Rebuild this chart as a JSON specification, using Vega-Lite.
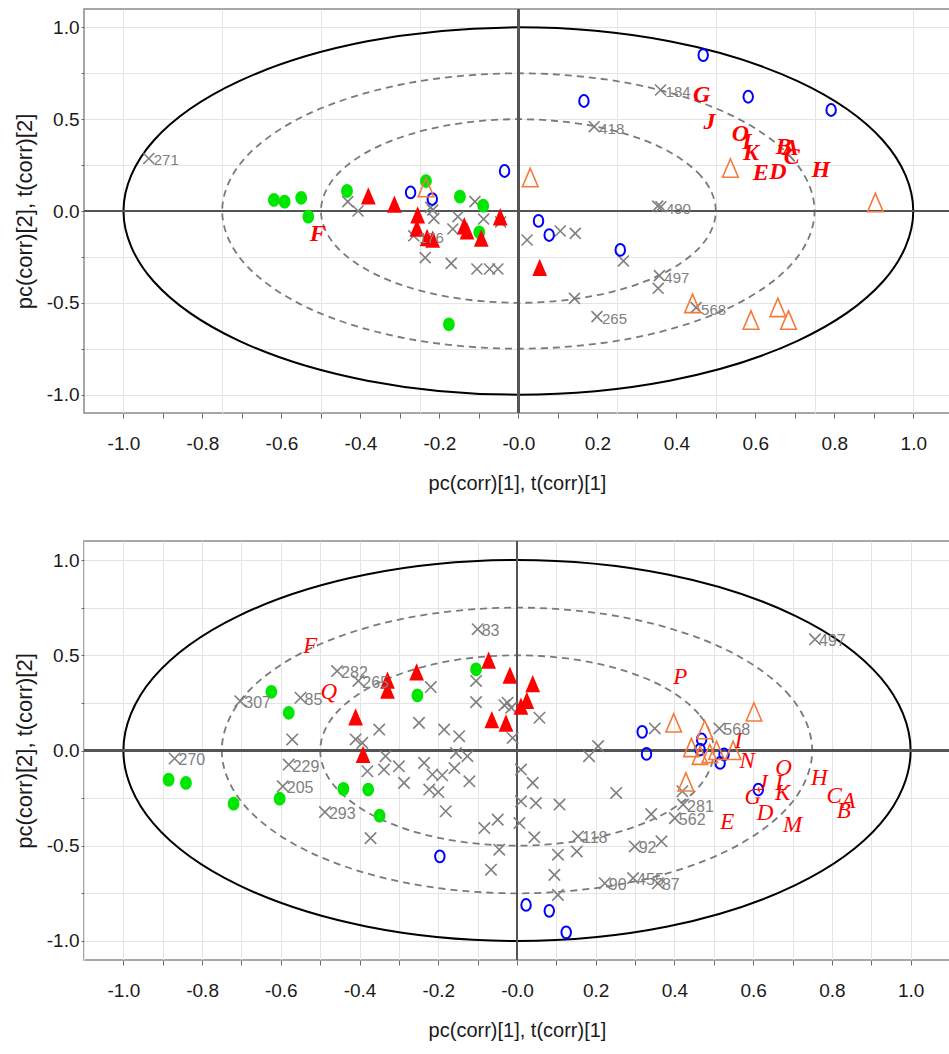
{
  "$schema": "https://vega.github.io/schema/vega-lite/v6.json",
  "padding": {"left": 12, "top": 7, "right": 0, "bottom": 0},
  "spacing": 45,
  "config": {
    "font": "Liberation Sans",
    "view": {"stroke": "#8a8a8a", "strokeWidth": 1.5},
    "axis": {
      "labelFont": "Liberation Sans",
      "titleFont": "Liberation Sans",
      "labelFontSize": 19,
      "labelColor": "#1a1a1a",
      "titleFontSize": 20,
      "titleFontWeight": "normal",
      "titleColor": "#1a1a1a",
      "tickColor": "#6a6a6a",
      "domain": false,
      "gridColor": "#e4e4e4",
      "gridWidth": 1,
      "labelOverlap": false,
      "labelFlush": false
    }
  },
  "datasets": {
    "rings": [
      {"r": 1, "i": 0, "x": 1, "y": 0}, {"r": 1, "i": 1, "x": 0.9239, "y": 0.3827}, {"r": 1, "i": 2, "x": 0.7071, "y": 0.7071}, {"r": 1, "i": 3, "x": 0.3827, "y": 0.9239},
      {"r": 1, "i": 4, "x": 0, "y": 1}, {"r": 1, "i": 5, "x": -0.3827, "y": 0.9239}, {"r": 1, "i": 6, "x": -0.7071, "y": 0.7071}, {"r": 1, "i": 7, "x": -0.9239, "y": 0.3827},
      {"r": 1, "i": 8, "x": -1, "y": 0}, {"r": 1, "i": 9, "x": -0.9239, "y": -0.3827}, {"r": 1, "i": 10, "x": -0.7071, "y": -0.7071}, {"r": 1, "i": 11, "x": -0.3827, "y": -0.9239},
      {"r": 1, "i": 12, "x": 0, "y": -1}, {"r": 1, "i": 13, "x": 0.3827, "y": -0.9239}, {"r": 1, "i": 14, "x": 0.7071, "y": -0.7071}, {"r": 1, "i": 15, "x": 0.9239, "y": -0.3827},
      {"r": 0.75, "i": 0, "x": 0.75, "y": 0}, {"r": 0.75, "i": 1, "x": 0.6929, "y": 0.287}, {"r": 0.75, "i": 2, "x": 0.5303, "y": 0.5303}, {"r": 0.75, "i": 3, "x": 0.287, "y": 0.6929},
      {"r": 0.75, "i": 4, "x": 0, "y": 0.75}, {"r": 0.75, "i": 5, "x": -0.287, "y": 0.6929}, {"r": 0.75, "i": 6, "x": -0.5303, "y": 0.5303}, {"r": 0.75, "i": 7, "x": -0.6929, "y": 0.287},
      {"r": 0.75, "i": 8, "x": -0.75, "y": 0}, {"r": 0.75, "i": 9, "x": -0.6929, "y": -0.287}, {"r": 0.75, "i": 10, "x": -0.5303, "y": -0.5303}, {"r": 0.75, "i": 11, "x": -0.287, "y": -0.6929},
      {"r": 0.75, "i": 12, "x": 0, "y": -0.75}, {"r": 0.75, "i": 13, "x": 0.287, "y": -0.6929}, {"r": 0.75, "i": 14, "x": 0.5303, "y": -0.5303}, {"r": 0.75, "i": 15, "x": 0.6929, "y": -0.287},
      {"r": 0.5, "i": 0, "x": 0.5, "y": 0}, {"r": 0.5, "i": 1, "x": 0.4619, "y": 0.1913}, {"r": 0.5, "i": 2, "x": 0.3536, "y": 0.3536}, {"r": 0.5, "i": 3, "x": 0.1913, "y": 0.4619},
      {"r": 0.5, "i": 4, "x": 0, "y": 0.5}, {"r": 0.5, "i": 5, "x": -0.1913, "y": 0.4619}, {"r": 0.5, "i": 6, "x": -0.3536, "y": 0.3536}, {"r": 0.5, "i": 7, "x": -0.4619, "y": 0.1913},
      {"r": 0.5, "i": 8, "x": -0.5, "y": 0}, {"r": 0.5, "i": 9, "x": -0.4619, "y": -0.1913}, {"r": 0.5, "i": 10, "x": -0.3536, "y": -0.3536}, {"r": 0.5, "i": 11, "x": -0.1913, "y": -0.4619},
      {"r": 0.5, "i": 12, "x": 0, "y": -0.5}, {"r": 0.5, "i": 13, "x": 0.1913, "y": -0.4619}, {"r": 0.5, "i": 14, "x": 0.3536, "y": -0.3536}, {"r": 0.5, "i": 15, "x": 0.4619, "y": -0.1913}
    ],
    "top": [
      {"type": "x", "x": -0.936, "y": 0.286, "label": "271"},
      {"type": "x", "x": -0.432, "y": 0.051, "label": ""},
      {"type": "x", "x": -0.406, "y": 0.0, "label": ""},
      {"type": "x", "x": -0.217, "y": 0.005, "label": ""},
      {"type": "x", "x": -0.214, "y": -0.04, "label": ""},
      {"type": "x", "x": -0.222, "y": 0.02, "label": ""},
      {"type": "x", "x": -0.265, "y": -0.135, "label": "176"},
      {"type": "x", "x": -0.236, "y": -0.254, "label": ""},
      {"type": "x", "x": -0.17, "y": -0.285, "label": ""},
      {"type": "x", "x": -0.153, "y": -0.031, "label": ""},
      {"type": "x", "x": -0.166, "y": -0.098, "label": ""},
      {"type": "x", "x": -0.11, "y": 0.051, "label": ""},
      {"type": "x", "x": -0.088, "y": -0.044, "label": ""},
      {"type": "x", "x": -0.105, "y": -0.316, "label": ""},
      {"type": "x", "x": -0.073, "y": -0.316, "label": ""},
      {"type": "x", "x": -0.052, "y": -0.316, "label": ""},
      {"type": "x", "x": -0.045, "y": -0.06, "label": ""},
      {"type": "x", "x": 0.022, "y": -0.158, "label": ""},
      {"type": "x", "x": 0.106, "y": -0.109, "label": ""},
      {"type": "x", "x": 0.144, "y": -0.122, "label": ""},
      {"type": "x", "x": 0.266, "y": -0.272, "label": ""},
      {"type": "x", "x": 0.142, "y": -0.476, "label": ""},
      {"type": "x", "x": 0.36, "y": 0.659, "label": "184"},
      {"type": "x", "x": 0.192, "y": 0.459, "label": "418"},
      {"type": "x", "x": 0.361, "y": 0.023, "label": "490"},
      {"type": "x", "x": 0.353, "y": 0.027, "label": ""},
      {"type": "x", "x": 0.357, "y": -0.352, "label": "497"},
      {"type": "x", "x": 0.354, "y": -0.421, "label": ""},
      {"type": "x", "x": 0.199, "y": -0.575, "label": "265"},
      {"type": "x", "x": 0.45, "y": -0.526, "label": "568"},
      {"type": "g", "x": -0.619, "y": 0.06, "label": ""},
      {"type": "g", "x": -0.592, "y": 0.051, "label": ""},
      {"type": "g", "x": -0.55, "y": 0.072, "label": ""},
      {"type": "g", "x": -0.532, "y": -0.031, "label": ""},
      {"type": "g", "x": -0.434, "y": 0.109, "label": ""},
      {"type": "g", "x": -0.234, "y": 0.163, "label": ""},
      {"type": "g", "x": -0.148, "y": 0.078, "label": ""},
      {"type": "g", "x": -0.089, "y": 0.029, "label": ""},
      {"type": "g", "x": -0.099, "y": -0.116, "label": ""},
      {"type": "g", "x": -0.176, "y": -0.617, "label": ""},
      {"type": "b", "x": -0.273, "y": 0.101, "label": ""},
      {"type": "b", "x": -0.218, "y": 0.065, "label": ""},
      {"type": "b", "x": -0.035, "y": 0.218, "label": ""},
      {"type": "b", "x": 0.051, "y": -0.054, "label": ""},
      {"type": "b", "x": 0.078, "y": -0.131, "label": ""},
      {"type": "b", "x": 0.166, "y": 0.599, "label": ""},
      {"type": "b", "x": 0.258, "y": -0.212, "label": ""},
      {"type": "b", "x": 0.582, "y": 0.622, "label": ""},
      {"type": "b", "x": 0.792, "y": 0.55, "label": ""},
      {"type": "b", "x": 0.468, "y": 0.849, "label": ""},
      {"type": "o", "x": -0.234, "y": 0.123, "label": ""},
      {"type": "o", "x": 0.03, "y": 0.177, "label": ""},
      {"type": "o", "x": 0.537, "y": 0.229, "label": ""},
      {"type": "o", "x": 0.904, "y": 0.041, "label": ""},
      {"type": "o", "x": 0.441, "y": -0.508, "label": ""},
      {"type": "o", "x": 0.589, "y": -0.599, "label": ""},
      {"type": "o", "x": 0.657, "y": -0.53, "label": ""},
      {"type": "o", "x": 0.684, "y": -0.599, "label": ""},
      {"type": "r", "x": -0.38, "y": 0.078, "label": ""},
      {"type": "r", "x": -0.314, "y": 0.033, "label": ""},
      {"type": "r", "x": -0.255, "y": -0.026, "label": ""},
      {"type": "r", "x": -0.257, "y": -0.098, "label": ""},
      {"type": "r", "x": -0.231, "y": -0.149, "label": ""},
      {"type": "r", "x": -0.217, "y": -0.158, "label": ""},
      {"type": "r", "x": -0.137, "y": -0.085, "label": ""},
      {"type": "r", "x": -0.13, "y": -0.113, "label": ""},
      {"type": "r", "x": -0.094, "y": -0.152, "label": ""},
      {"type": "r", "x": -0.046, "y": -0.036, "label": ""},
      {"type": "r", "x": 0.054, "y": -0.312, "label": ""},
      {"type": "L", "x": -0.508, "y": -0.127, "label": "F"},
      {"type": "L", "x": 0.464, "y": 0.631, "label": "G"},
      {"type": "L", "x": 0.484, "y": 0.486, "label": "J"},
      {"type": "L", "x": 0.562, "y": 0.422, "label": "O"},
      {"type": "L", "x": 0.579, "y": 0.378, "label": "I"},
      {"type": "L", "x": 0.589, "y": 0.314, "label": "K"},
      {"type": "L", "x": 0.614, "y": 0.205, "label": "E"},
      {"type": "L", "x": 0.657, "y": 0.214, "label": "D"},
      {"type": "L", "x": 0.672, "y": 0.35, "label": "B"},
      {"type": "L", "x": 0.69, "y": 0.344, "label": "A"},
      {"type": "L", "x": 0.692, "y": 0.296, "label": "C"},
      {"type": "L", "x": 0.766, "y": 0.223, "label": "H"}
    ],
    "bottom": [
      {"type": "x", "x": -0.87, "y": -0.042, "label": "270"},
      {"type": "x", "x": -0.703, "y": 0.259, "label": "307"},
      {"type": "x", "x": -0.457, "y": 0.417, "label": "282"},
      {"type": "x", "x": -0.403, "y": 0.365, "label": "265"},
      {"type": "x", "x": -0.55, "y": 0.277, "label": "85"},
      {"type": "x", "x": -0.58, "y": -0.074, "label": "229"},
      {"type": "x", "x": -0.595, "y": -0.188, "label": "205"},
      {"type": "x", "x": -0.488, "y": -0.323, "label": "293"},
      {"type": "x", "x": -0.1, "y": 0.637, "label": "83"},
      {"type": "x", "x": 0.757, "y": 0.584, "label": "497"},
      {"type": "x", "x": 0.514, "y": 0.116, "label": "568"},
      {"type": "x", "x": 0.422, "y": -0.284, "label": "281"},
      {"type": "x", "x": 0.401, "y": -0.355, "label": "562"},
      {"type": "x", "x": 0.155, "y": -0.451, "label": "118"},
      {"type": "x", "x": 0.299, "y": -0.504, "label": "92"},
      {"type": "x", "x": 0.223, "y": -0.697, "label": "90"},
      {"type": "x", "x": 0.295, "y": -0.67, "label": "455"},
      {"type": "x", "x": 0.358, "y": -0.697, "label": "87"},
      {"type": "x", "x": -0.571, "y": 0.058, "label": ""},
      {"type": "x", "x": -0.41, "y": 0.058, "label": ""},
      {"type": "x", "x": -0.393, "y": 0.04, "label": ""},
      {"type": "x", "x": -0.35, "y": 0.11, "label": ""},
      {"type": "x", "x": -0.372, "y": -0.46, "label": ""},
      {"type": "x", "x": -0.38, "y": -0.109, "label": ""},
      {"type": "x", "x": -0.334, "y": -0.03, "label": ""},
      {"type": "x", "x": -0.338, "y": -0.1, "label": ""},
      {"type": "x", "x": -0.3, "y": -0.083, "label": ""},
      {"type": "x", "x": -0.287, "y": -0.17, "label": ""},
      {"type": "x", "x": -0.249, "y": 0.145, "label": ""},
      {"type": "x", "x": -0.219, "y": 0.333, "label": ""},
      {"type": "x", "x": -0.236, "y": -0.065, "label": ""},
      {"type": "x", "x": -0.185, "y": 0.11, "label": ""},
      {"type": "x", "x": -0.215, "y": -0.126, "label": ""},
      {"type": "x", "x": -0.19, "y": -0.13, "label": ""},
      {"type": "x", "x": -0.223, "y": -0.205, "label": ""},
      {"type": "x", "x": -0.2, "y": -0.218, "label": ""},
      {"type": "x", "x": -0.181, "y": -0.319, "label": ""},
      {"type": "x", "x": -0.104, "y": 0.365, "label": ""},
      {"type": "x", "x": -0.104, "y": 0.254, "label": ""},
      {"type": "x", "x": -0.147, "y": 0.075, "label": ""},
      {"type": "x", "x": -0.155, "y": -0.013, "label": ""},
      {"type": "x", "x": -0.126, "y": -0.03, "label": ""},
      {"type": "x", "x": -0.159, "y": -0.092, "label": ""},
      {"type": "x", "x": -0.121, "y": -0.162, "label": ""},
      {"type": "x", "x": -0.024, "y": 0.251, "label": ""},
      {"type": "x", "x": -0.015, "y": 0.224, "label": ""},
      {"type": "x", "x": -0.032, "y": 0.238, "label": ""},
      {"type": "x", "x": 0.057, "y": 0.172, "label": ""},
      {"type": "x", "x": -0.011, "y": 0.066, "label": ""},
      {"type": "x", "x": 0.01, "y": -0.1, "label": ""},
      {"type": "x", "x": 0.04, "y": -0.17, "label": ""},
      {"type": "x", "x": 0.01, "y": -0.267, "label": ""},
      {"type": "x", "x": 0.048, "y": -0.276, "label": ""},
      {"type": "x", "x": 0.108, "y": -0.284, "label": ""},
      {"type": "x", "x": 0.006, "y": -0.381, "label": ""},
      {"type": "x", "x": -0.049, "y": -0.363, "label": ""},
      {"type": "x", "x": -0.083, "y": -0.407, "label": ""},
      {"type": "x", "x": 0.044, "y": -0.456, "label": ""},
      {"type": "x", "x": -0.045, "y": -0.521, "label": ""},
      {"type": "x", "x": -0.066, "y": -0.626, "label": ""},
      {"type": "x", "x": 0.104, "y": -0.547, "label": ""},
      {"type": "x", "x": 0.152, "y": -0.53, "label": ""},
      {"type": "x", "x": 0.095, "y": -0.653, "label": ""},
      {"type": "x", "x": 0.104, "y": -0.758, "label": ""},
      {"type": "x", "x": 0.183, "y": -0.03, "label": ""},
      {"type": "x", "x": 0.206, "y": 0.023, "label": ""},
      {"type": "x", "x": 0.35, "y": 0.116, "label": ""},
      {"type": "x", "x": 0.252, "y": -0.223, "label": ""},
      {"type": "x", "x": 0.341, "y": -0.334, "label": ""},
      {"type": "x", "x": 0.42, "y": -0.214, "label": ""},
      {"type": "x", "x": 0.367, "y": -0.477, "label": ""},
      {"type": "g", "x": -0.885, "y": -0.153, "label": ""},
      {"type": "g", "x": -0.841, "y": -0.17, "label": ""},
      {"type": "g", "x": -0.72, "y": -0.279, "label": ""},
      {"type": "g", "x": -0.624, "y": 0.308, "label": ""},
      {"type": "g", "x": -0.58, "y": 0.198, "label": ""},
      {"type": "g", "x": -0.603, "y": -0.253, "label": ""},
      {"type": "g", "x": -0.441, "y": -0.202, "label": ""},
      {"type": "g", "x": -0.378, "y": -0.205, "label": ""},
      {"type": "g", "x": -0.349, "y": -0.342, "label": ""},
      {"type": "g", "x": -0.253, "y": 0.289, "label": ""},
      {"type": "g", "x": -0.104, "y": 0.426, "label": ""},
      {"type": "b", "x": -0.196, "y": -0.556, "label": ""},
      {"type": "b", "x": 0.023, "y": -0.811, "label": ""},
      {"type": "b", "x": 0.082, "y": -0.842, "label": ""},
      {"type": "b", "x": 0.125, "y": -0.955, "label": ""},
      {"type": "b", "x": 0.318, "y": 0.098, "label": ""},
      {"type": "b", "x": 0.329, "y": -0.018, "label": ""},
      {"type": "b", "x": 0.469, "y": 0.058, "label": ""},
      {"type": "b", "x": 0.465, "y": 0.005, "label": ""},
      {"type": "b", "x": 0.526, "y": -0.021, "label": ""},
      {"type": "b", "x": 0.516, "y": -0.065, "label": ""},
      {"type": "b", "x": 0.613, "y": -0.205, "label": ""},
      {"type": "o", "x": 0.398, "y": 0.14, "label": ""},
      {"type": "o", "x": 0.477, "y": 0.105, "label": ""},
      {"type": "o", "x": 0.602, "y": 0.198, "label": ""},
      {"type": "o", "x": 0.443, "y": 0.011, "label": ""},
      {"type": "o", "x": 0.465, "y": -0.03, "label": ""},
      {"type": "o", "x": 0.49, "y": -0.021, "label": ""},
      {"type": "o", "x": 0.507, "y": -0.004, "label": ""},
      {"type": "o", "x": 0.549, "y": -0.004, "label": ""},
      {"type": "o", "x": 0.429, "y": -0.17, "label": ""},
      {"type": "r", "x": -0.41, "y": 0.172, "label": ""},
      {"type": "r", "x": -0.391, "y": -0.025, "label": ""},
      {"type": "r", "x": -0.329, "y": 0.365, "label": ""},
      {"type": "r", "x": -0.329, "y": 0.312, "label": ""},
      {"type": "r", "x": -0.255, "y": 0.408, "label": ""},
      {"type": "r", "x": -0.072, "y": 0.47, "label": ""},
      {"type": "r", "x": -0.018, "y": 0.391, "label": ""},
      {"type": "r", "x": 0.04, "y": 0.347, "label": ""},
      {"type": "r", "x": 0.025, "y": 0.259, "label": ""},
      {"type": "r", "x": 0.01, "y": 0.228, "label": ""},
      {"type": "r", "x": -0.064, "y": 0.158, "label": ""},
      {"type": "r", "x": -0.028, "y": 0.14, "label": ""},
      {"type": "L", "x": -0.525, "y": 0.549, "label": "F"},
      {"type": "L", "x": -0.478, "y": 0.308, "label": "Q"},
      {"type": "L", "x": 0.415, "y": 0.386, "label": "P"},
      {"type": "L", "x": 0.562, "y": 0.049, "label": "I"},
      {"type": "L", "x": 0.585, "y": -0.056, "label": "N"},
      {"type": "L", "x": 0.677, "y": -0.092, "label": "O"},
      {"type": "L", "x": 0.624, "y": -0.17, "label": "J"},
      {"type": "L", "x": 0.672, "y": -0.17, "label": "L"},
      {"type": "L", "x": 0.675, "y": -0.223, "label": "K"},
      {"type": "L", "x": 0.599, "y": -0.246, "label": "G"},
      {"type": "L", "x": 0.63, "y": -0.328, "label": "D"},
      {"type": "L", "x": 0.534, "y": -0.376, "label": "E"},
      {"type": "L", "x": 0.7, "y": -0.389, "label": "M"},
      {"type": "L", "x": 0.768, "y": -0.144, "label": "H"},
      {"type": "L", "x": 0.806, "y": -0.241, "label": "C"},
      {"type": "L", "x": 0.842, "y": -0.267, "label": "A"},
      {"type": "L", "x": 0.83, "y": -0.319, "label": "B"}
    ]
  },
  "vconcat": [
    {
      "width": 866,
      "height": 404,
      "data": {"name": "top"},
      "resolve": {"axis": {"x": "independent", "y": "independent"}},
      "layer": [
        {
          "data": {"name": "rings"},
          "transform": [{"filter": "datum.r == 1"}],
          "mark": {"type": "line", "interpolate": "cardinal-closed", "color": "#000000", "strokeWidth": 2},
          "encoding": {
            "x": {"field": "x", "type": "quantitative", "scale": {"domain": [-1.1, 1.093], "nice": false, "zero": false},
              "axis": {"orient": "bottom", "title": "pc(corr)[1], t(corr)[1]", "values": [-1, -0.9, -0.8, -0.7, -0.6, -0.5, -0.4, -0.3, -0.2, -0.1, 0, 0.1, 0.2, 0.3, 0.4, 0.5, 0.6, 0.7, 0.8, 0.9, 1],
                "labelExpr": "abs(datum.value) < 0.001 ? '-0.0' : (abs(round(datum.value*10)) % 2 == 1 ? '' : replace(format(datum.value, '.1f'), '\u2212', '-'))",
                "grid": false, "ticks": true, "tickSize": 5, "labelPadding": 16, "titlePadding": 20}},
            "y": {"field": "y", "type": "quantitative", "scale": {"domain": [-1.1, 1.1], "nice": false, "zero": false},
              "axis": {"orient": "left", "title": "pc(corr)[2], t(corr)[2]", "titleFontSize": 22, "values": [-1, -0.75, -0.5, -0.25, 0, 0.25, 0.5, 0.75, 1],
                "labelExpr": "abs(datum.value*2 - round(datum.value*2)) > 0.01 ? '' : replace(format(datum.value, '.1f'), '\u2212', '-')",
                "grid": true, "ticks": true, "tickSize": 3, "labelPadding": 2, "titlePadding": 10}},
            "order": {"field": "i", "type": "quantitative"}
          }
        },
        {
          "data": {"name": "rings"},
          "transform": [{"filter": "datum.r < 1"}],
          "mark": {"type": "line", "interpolate": "cardinal-closed", "color": "#7a7a7a", "strokeWidth": 1.8, "strokeDash": [7, 5]},
          "encoding": {
            "x": {"field": "x", "type": "quantitative", "axis": {"orient": "bottom", "title": null, "values": [-1, -0.75, -0.5, -0.25, 0, 0.25, 0.5, 0.75, 1], "grid": true, "labels": false, "ticks": false, "domain": false}},
            "y": {"field": "y", "type": "quantitative", "axis": null},
            "detail": {"field": "r", "type": "nominal"},
            "order": {"field": "i", "type": "quantitative"}
          }
        },
        {
          "mark": {"type": "rule", "color": "#555555", "strokeWidth": 1.5},
          "encoding": {"x": {"datum": 0, "type": "quantitative", "axis": null}}
        },
        {
          "mark": {"type": "rule", "color": "#555555", "strokeWidth": 1.5},
          "encoding": {"y": {"datum": 0, "type": "quantitative", "axis": null}}
        },
        {
          "transform": [{"filter": "datum.type == 'x'"}],
          "mark": {"type": "point", "shape": "M-1,-1L1,1M-1,1L1,-1", "size": 120, "filled": false, "color": "#7f7f7f", "strokeWidth": 1.6, "opacity": 1},
          "encoding": {"x": {"field": "x", "type": "quantitative", "axis": null}, "y": {"field": "y", "type": "quantitative", "axis": null}}
        },
        {
          "transform": [{"filter": "datum.type == 'g'"}],
          "mark": {"type": "point", "shape": "M0,-1A0.85,1,0,1,1,0,1A0.85,1,0,1,1,0,-1Z", "size": 190, "filled": true, "color": "#00e600", "opacity": 1, "strokeWidth": 0},
          "encoding": {"x": {"field": "x", "type": "quantitative", "axis": null}, "y": {"field": "y", "type": "quantitative", "axis": null}}
        },
        {
          "transform": [{"filter": "datum.type == 'b'"}],
          "mark": {"type": "point", "shape": "M0,-1A0.8,1,0,1,1,0,1A0.8,1,0,1,1,0,-1Z", "size": 140, "filled": false, "color": "#0000ff", "strokeWidth": 2, "opacity": 1},
          "encoding": {"x": {"field": "x", "type": "quantitative", "axis": null}, "y": {"field": "y", "type": "quantitative", "axis": null}}
        },
        {
          "transform": [{"filter": "datum.type == 'o'"}],
          "mark": {"type": "point", "shape": "M0,-1.1L0.85,0.9L-0.85,0.9Z", "size": 340, "filled": false, "color": "#f47a3c", "strokeWidth": 1.6, "opacity": 1},
          "encoding": {"x": {"field": "x", "type": "quantitative", "axis": null}, "y": {"field": "y", "type": "quantitative", "axis": null}}
        },
        {
          "transform": [{"filter": "datum.type == 'r'"}],
          "mark": {"type": "point", "shape": "M0,-1.1L0.85,0.9L-0.85,0.9Z", "size": 300, "filled": true, "color": "#ff0000", "opacity": 1, "strokeWidth": 0},
          "encoding": {"x": {"field": "x", "type": "quantitative", "axis": null}, "y": {"field": "y", "type": "quantitative", "axis": null}}
        },
        {
          "transform": [{"filter": "datum.type == 'L'"}],
          "mark": {"type": "text", "font": "Liberation Serif", "fontStyle": "italic", "fontWeight": "bold", "fontSize": 24, "color": "#ff0000", "align": "center", "baseline": "middle"},
          "encoding": {"x": {"field": "x", "type": "quantitative", "axis": null}, "y": {"field": "y", "type": "quantitative", "axis": null}, "text": {"field": "label"}}
        },
        {
          "transform": [{"filter": "datum.type == 'x' && datum.label != ''"}],
          "mark": {"type": "text", "font": "Liberation Sans", "fontSize": 15, "color": "#808080", "align": "left", "baseline": "middle", "dx": 5, "dy": 2},
          "encoding": {"x": {"field": "x", "type": "quantitative", "axis": null}, "y": {"field": "y", "type": "quantitative", "axis": null}, "text": {"field": "label"}}
        }
      ]
    },
    {
      "width": 866,
      "height": 419,
      "data": {"name": "bottom"},
      "resolve": {"axis": {"x": "independent", "y": "independent"}},
      "layer": [
        {
          "data": {"name": "rings"},
          "transform": [{"filter": "datum.r == 1"}],
          "mark": {"type": "line", "interpolate": "cardinal-closed", "color": "#000000", "strokeWidth": 2},
          "encoding": {
            "x": {"field": "x", "type": "quantitative", "scale": {"domain": [-1.1, 1.1], "nice": false, "zero": false},
              "axis": {"orient": "bottom", "title": "pc(corr)[1], t(corr)[1]", "values": [-1, -0.9, -0.8, -0.7, -0.6, -0.5, -0.4, -0.3, -0.2, -0.1, 0, 0.1, 0.2, 0.3, 0.4, 0.5, 0.6, 0.7, 0.8, 0.9, 1],
                "labelExpr": "abs(datum.value) < 0.001 ? '-0.0' : (abs(round(datum.value*10)) % 2 == 1 ? '' : replace(format(datum.value, '.1f'), '\u2212', '-'))",
                "grid": false, "ticks": true, "tickSize": 5, "labelPadding": 16, "titlePadding": 20}},
            "y": {"field": "y", "type": "quantitative", "scale": {"domain": [-1.1, 1.1], "nice": false, "zero": false},
              "axis": {"orient": "left", "title": "pc(corr)[2], t(corr)[2]", "titleFontSize": 22, "values": [-1, -0.75, -0.5, -0.25, 0, 0.25, 0.5, 0.75, 1],
                "labelExpr": "abs(datum.value*2 - round(datum.value*2)) > 0.01 ? '' : replace(format(datum.value, '.1f'), '\u2212', '-')",
                "grid": true, "ticks": true, "tickSize": 3, "labelPadding": 2, "titlePadding": 10}},
            "order": {"field": "i", "type": "quantitative"}
          }
        },
        {
          "data": {"name": "rings"},
          "transform": [{"filter": "datum.r < 1"}],
          "mark": {"type": "line", "interpolate": "cardinal-closed", "color": "#7a7a7a", "strokeWidth": 1.8, "strokeDash": [7, 5]},
          "encoding": {
            "x": {"field": "x", "type": "quantitative", "axis": {"orient": "bottom", "title": null, "values": [-1.1, -1, -0.9, -0.8, -0.7, -0.6, -0.5, -0.4, -0.3, -0.2, -0.1, 0, 0.1, 0.2, 0.3, 0.4, 0.5, 0.6, 0.7, 0.8, 0.9, 1, 1.1], "grid": true, "labels": false, "ticks": false, "domain": false}},
            "y": {"field": "y", "type": "quantitative", "axis": null},
            "detail": {"field": "r", "type": "nominal"},
            "order": {"field": "i", "type": "quantitative"}
          }
        },
        {
          "mark": {"type": "rule", "color": "#555555", "strokeWidth": 1.5},
          "encoding": {"x": {"datum": 0, "type": "quantitative", "axis": null}}
        },
        {
          "mark": {"type": "rule", "color": "#555555", "strokeWidth": 1.5},
          "encoding": {"y": {"datum": 0, "type": "quantitative", "axis": null}}
        },
        {
          "transform": [{"filter": "datum.type == 'x'"}],
          "mark": {"type": "point", "shape": "M-1,-1L1,1M-1,1L1,-1", "size": 130, "filled": false, "color": "#7f7f7f", "strokeWidth": 1.6, "opacity": 1},
          "encoding": {"x": {"field": "x", "type": "quantitative", "axis": null}, "y": {"field": "y", "type": "quantitative", "axis": null}}
        },
        {
          "transform": [{"filter": "datum.type == 'g'"}],
          "mark": {"type": "point", "shape": "M0,-1A0.85,1,0,1,1,0,1A0.85,1,0,1,1,0,-1Z", "size": 190, "filled": true, "color": "#00e600", "opacity": 1, "strokeWidth": 0},
          "encoding": {"x": {"field": "x", "type": "quantitative", "axis": null}, "y": {"field": "y", "type": "quantitative", "axis": null}}
        },
        {
          "transform": [{"filter": "datum.type == 'b'"}],
          "mark": {"type": "point", "shape": "M0,-1A0.8,1,0,1,1,0,1A0.8,1,0,1,1,0,-1Z", "size": 140, "filled": false, "color": "#0000ff", "strokeWidth": 2, "opacity": 1},
          "encoding": {"x": {"field": "x", "type": "quantitative", "axis": null}, "y": {"field": "y", "type": "quantitative", "axis": null}}
        },
        {
          "transform": [{"filter": "datum.type == 'o'"}],
          "mark": {"type": "point", "shape": "M0,-1.1L0.85,0.9L-0.85,0.9Z", "size": 330, "filled": false, "color": "#f47a3c", "strokeWidth": 1.6, "opacity": 1},
          "encoding": {"x": {"field": "x", "type": "quantitative", "axis": null}, "y": {"field": "y", "type": "quantitative", "axis": null}}
        },
        {
          "transform": [{"filter": "datum.type == 'r'"}],
          "mark": {"type": "point", "shape": "M0,-1.1L0.85,0.9L-0.85,0.9Z", "size": 300, "filled": true, "color": "#ff0000", "opacity": 1, "strokeWidth": 0},
          "encoding": {"x": {"field": "x", "type": "quantitative", "axis": null}, "y": {"field": "y", "type": "quantitative", "axis": null}}
        },
        {
          "transform": [{"filter": "datum.type == 'L'"}],
          "mark": {"type": "text", "font": "Liberation Serif", "fontStyle": "italic", "fontWeight": "normal", "fontSize": 23, "color": "#ff0000", "align": "center", "baseline": "middle"},
          "encoding": {"x": {"field": "x", "type": "quantitative", "axis": null}, "y": {"field": "y", "type": "quantitative", "axis": null}, "text": {"field": "label"}}
        },
        {
          "transform": [{"filter": "datum.type == 'x' && datum.label != ''"}],
          "mark": {"type": "text", "font": "Liberation Sans", "fontSize": 16, "color": "#808080", "align": "left", "baseline": "middle", "dx": 4, "dy": 2},
          "encoding": {"x": {"field": "x", "type": "quantitative", "axis": null}, "y": {"field": "y", "type": "quantitative", "axis": null}, "text": {"field": "label"}}
        }
      ]
    }
  ]
}
